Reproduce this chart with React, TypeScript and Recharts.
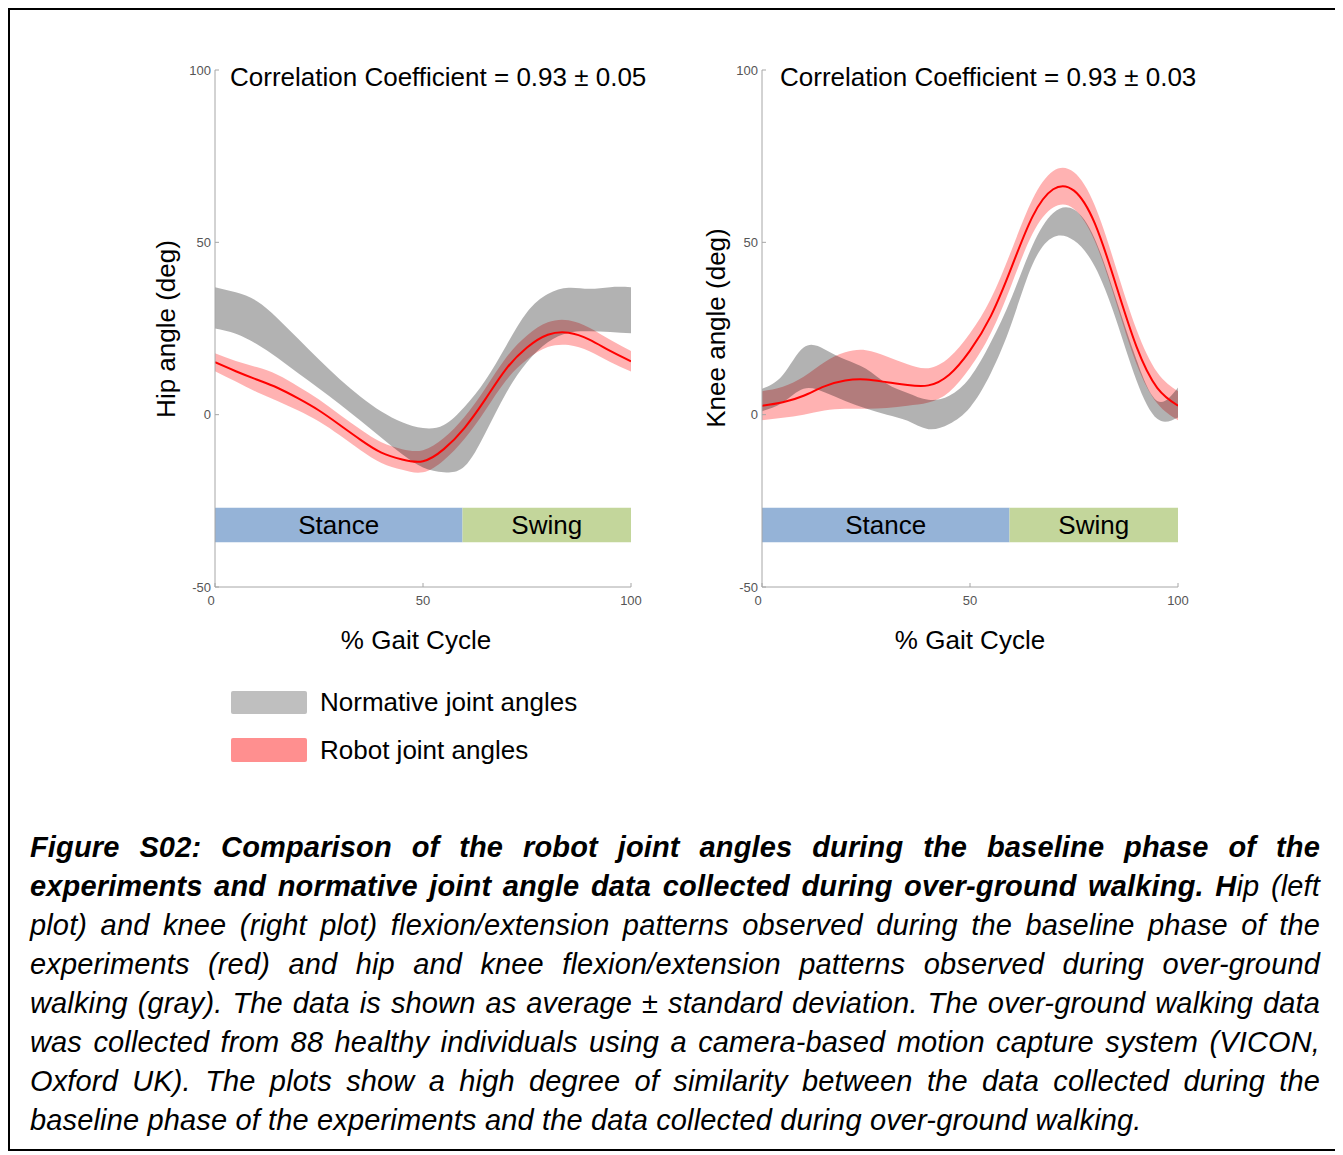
import React from 'react';
import {
  ComposedChart, Area, Line, XAxis, YAxis, ReferenceArea,
} from 'recharts';

// % gait cycle sample points
const pct = [0, 5, 10, 15, 20, 25, 30, 35, 40, 45, 50, 55, 60, 65, 70, 75, 80, 85, 90, 95, 100];

// Hip: normative band (gray) lower / upper edge, deg
const hipNormLow = [25, 23.5, 20.5, 16.5, 12, 7.6, 3, -1.8, -6.7, -11.5, -15.3, -16.7, -15, -5.3, 6.3, 15.2, 21, 23.8, 24.2, 24, 23.6];
const hipNormHigh = [37, 35.5, 33, 28, 22, 16, 10.3, 5.2, 0.9, -2.2, -3.9, -3, 2.3, 10, 20, 29.7, 35, 36.8, 36.5, 37, 37];
// Hip: robot mean and std (red)
const hipRobotMean = [15.2, 12.6, 10.2, 7.8, 4.7, 1.2, -3, -7.3, -11, -13, -13.5, -10, -3.8, 4.5, 13.3, 19.5, 23.2, 23.8, 21.8, 18.5, 15.5];
const hipRobotSd = [2.6, 3, 3.6, 3.8, 3.5, 3.2, 3, 3, 3, 3, 3.2, 3.2, 3.2, 3.2, 3.3, 3.5, 3.6, 3.6, 3.4, 3.2, 3];

// Knee: normative band (gray) lower / upper edge, deg
const kneeNormLow = [1, 3.5, 7.5, 6.5, 4, 1.8, 0, -1.8, -4.2, -2.7, 2.1, 12, 26.5, 43.5, 51.5, 50.5, 43, 28, 10, -1.2, -0.8];
const kneeNormHigh = [7.5, 11.5, 19.5, 19, 16, 13.3, 9, 6.3, 4.3, 5.5, 10.8, 21, 34, 49, 58.5, 59.5, 51, 34, 16, 4, 7.9];
// Knee: robot mean and std (red)
const kneeRobotMean = [2.6, 3.6, 5.5, 8.2, 9.9, 10.2, 9.4, 8.6, 8.5, 11.6, 18.6, 28.6, 42.8, 57.4, 65.4, 65, 55.5, 38, 19.8, 7.8, 2.6];
const kneeRobotSd = [4.2, 4.5, 5.5, 7, 8.2, 8.5, 7.5, 6, 5, 5, 5, 5, 5, 5, 5.3, 5.3, 5.2, 5, 5, 4.5, 4.2];

const xTicks = [0, 50, 100];
const yTicks = [-50, 0, 50, 100];
const stanceEnd = 59.5;
const phaseBar = [-37, -27];

const hipData = pct.map((p, i) => ({
  p,
  norm: [hipNormLow[i], hipNormHigh[i]],
  robotBand: [hipRobotMean[i] - hipRobotSd[i], hipRobotMean[i] + hipRobotSd[i]],
  robot: hipRobotMean[i],
}));

const kneeData = pct.map((p, i) => ({
  p,
  norm: [kneeNormLow[i], kneeNormHigh[i]],
  robotBand: [kneeRobotMean[i] - kneeRobotSd[i], kneeRobotMean[i] + kneeRobotSd[i]],
  robot: kneeRobotMean[i],
}));

const FONT = "'Liberation Sans', Arial, Helvetica, sans-serif";
const AXIS = '#A6A6A6';
const TICK = '#555555';

function YTick(props: any) {
  const { x, y, payload } = props;
  return (
    <g>
      <line x1={x} y1={y} x2={x + 4} y2={y} stroke={AXIS} />
      <text x={x - 4} y={y} textAnchor="end" dominantBaseline="central" fontSize={13} fill={TICK}>
        {payload.value}
      </text>
    </g>
  );
}

function XTick(props: any) {
  const { x, y, payload } = props;
  return (
    <g>
      <line x1={x} y1={y} x2={x} y2={y - 4} stroke={AXIS} />
      <text x={payload.value === 0 ? x - 4 : x} y={y + 13} textAnchor="middle" dominantBaseline="central" fontSize={13} fill={TICK}>
        {payload.value}
      </text>
    </g>
  );
}

function GaitChart({ data }: { data: any[] }) {
  return (
    <ComposedChart width={500} height={600} data={data} margin={{ top: 30, right: 19, left: 5, bottom: 23 }}>
      <XAxis
        dataKey="p" type="number" domain={[0, 100]} ticks={xTicks} allowDataOverflow
        height={30} stroke={AXIS} tickSize={0} tickMargin={0} tickLine={false} tick={<XTick />}
      />
      <YAxis
        type="number" domain={[-50, 100]} ticks={yTicks} allowDataOverflow
        width={60} stroke={AXIS} tickSize={0} tickMargin={0} tickLine={false} tick={<YTick />}
      />
      <ReferenceArea
        x1={0} x2={stanceEnd} y1={phaseBar[0]} y2={phaseBar[1]} fill="#95B3D7" fillOpacity={1} stroke="none"
        label={{ value: 'Stance', position: 'center', fontSize: 26, fill: '#000' }}
      />
      <ReferenceArea
        x1={stanceEnd} x2={100} y1={phaseBar[0]} y2={phaseBar[1]} fill="#C3D69B" fillOpacity={1} stroke="none"
        label={{ value: 'Swing', position: 'center', fontSize: 26, fill: '#000' }}
      />
      <Area type="natural" dataKey="robotBand" fill="#FF0000" fillOpacity={0.3} stroke="none" isAnimationActive={false} />
      <Line type="natural" dataKey="robot" stroke="#FF0000" strokeWidth={2} dot={false} activeDot={false} isAnimationActive={false} />
      <Area type="natural" dataKey="norm" fill="#000000" fillOpacity={0.3} stroke="none" isAnimationActive={false} />
    </ComposedChart>
  );
}

const abs = (left: number, top: number): React.CSSProperties => ({
  position: 'absolute', left, top, whiteSpace: 'nowrap', fontSize: 26, lineHeight: '26px',
});

const captionLines: { bold: string; normal: string }[] = [
  { bold: 'Figure S02: Comparison of the robot joint angles during the baseline phase of the', normal: '' },
  { bold: 'experiments and normative joint angle data collected during over-ground walking. H', normal: 'ip (left' },
  { bold: '', normal: 'plot) and knee (right plot) flexion/extension patterns observed during the baseline phase of the' },
  { bold: '', normal: 'experiments (red) and hip and knee flexion/extension patterns observed during over-ground' },
  { bold: '', normal: 'walking (gray). The data is shown as average ± standard deviation. The over-ground walking data' },
  { bold: '', normal: 'was collected from 88 healthy individuals using a camera-based motion capture system (VICON,' },
  { bold: '', normal: 'Oxford UK). The plots show a high degree of similarity between the data collected during the' },
  { bold: '', normal: 'baseline phase of the experiments and the data collected during over-ground walking.' },
];

export default function App() {
  return (
    <div
      style={{
        position: 'relative', width: 1331, height: 1143, border: '2px solid #000',
        boxSizing: 'border-box', fontFamily: FONT, color: '#000', background: '#fff',
      }}
    >
      {/* Hip chart */}
      <div style={{ position: 'absolute', left: 140, top: 30 }}>
        <GaitChart data={hipData} />
      </div>
      <div style={abs(220, 54)}>Correlation Coefficient = 0.93 ± 0.05</div>
      <div style={{ ...abs(156, 319), transform: 'translate(-50%, -50%) rotate(-90deg)' }}>Hip angle (deg)</div>
      <div style={{ ...abs(406, 630), transform: 'translate(-50%, -50%)' }}>% Gait Cycle</div>

      {/* Knee chart */}
      <div style={{ position: 'absolute', left: 687, top: 30 }}>
        <GaitChart data={kneeData} />
      </div>
      <div style={abs(770, 54)}>Correlation Coefficient = 0.93 ± 0.03</div>
      <div style={{ ...abs(706, 318), transform: 'translate(-50%, -50%) rotate(-90deg)' }}>Knee angle (deg)</div>
      <div style={{ ...abs(960, 630), transform: 'translate(-50%, -50%)' }}>% Gait Cycle</div>

      {/* Legend */}
      <div style={{ position: 'absolute', left: 221, top: 681, width: 76, height: 23, background: '#BFBFBF', borderRadius: 2 }} />
      <div style={abs(310, 679)}>Normative joint angles</div>
      <div style={{ position: 'absolute', left: 221, top: 728, width: 76, height: 24, background: '#FF8F8F', borderRadius: 2 }} />
      <div style={abs(310, 727)}>Robot joint angles</div>

      {/* Caption */}
      <div style={{ position: 'absolute', left: 20, top: 818, width: 1290, fontSize: 29, fontStyle: 'italic', letterSpacing: 0.15 }}>
        {captionLines.map((ln, i) => (
          <div
            key={i}
            style={{
              height: 39, lineHeight: '39px', textAlign: 'justify', whiteSpace: 'nowrap',
              textAlignLast: i === captionLines.length - 1 ? 'left' : 'justify',
            }}
          >
            {ln.bold && <b>{ln.bold}</b>}
            {ln.normal}
          </div>
        ))}
      </div>
    </div>
  );
}
